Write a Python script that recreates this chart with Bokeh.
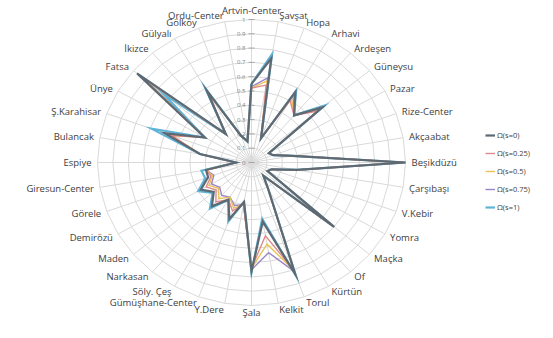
import numpy as np
from bokeh.plotting import figure
from bokeh.models import Range1d, Legend, LegendItem
from bokeh.core.properties import value
from bokeh.embed import file_html
from bokeh.resources import INLINE

categories = ["Artvin-Center", "Şavşat", "Hopa", "Arhavi", "Ardeşen", "Güneysu", "Pazar",
              "Rize-Center", "Akçaabat", "Beşikdüzü", "Çarşıbaşı", "V.Kebir", "Yomra", "Maçka",
              "Of", "Kürtün", "Torul", "Kelkit", "Şala", "Y.Dere", "Gümüşhane-Center",
              "Söly. Çeş", "Narkasan", "Maden", "Demirözü", "Görele", "Giresun-Center",
              "Espiye", "Bulancak", "Ş.Karahisar", "Ünye", "Fatsa", "İkizce", "Gülyalı",
              "Gölköy", "Ordu-Center"]

s_000 = [0.55, 0.74, 0.18, 0.57, 0.43, 0.60, 0.13, 0.15, 0.27, 1.00, 0.30, 0.14, 0.12, 0.70,
         0.12, 0.22, 0.83, 0.42, 0.76, 0.28, 0.42, 0.30, 0.40, 0.32, 0.38, 0.30, 0.30, 0.10,
         0.34, 0.60, 0.35, 0.97, 0.26, 0.58, 0.20, 0.15]
s_025 = [0.52, 0.55, 0.18, 0.50, 0.43, 0.56, 0.13, 0.15, 0.27, 0.98, 0.30, 0.14, 0.12, 0.70,
         0.12, 0.22, 0.80, 0.52, 0.74, 0.30, 0.36, 0.30, 0.36, 0.30, 0.34, 0.28, 0.30, 0.10,
         0.34, 0.55, 0.35, 0.93, 0.26, 0.55, 0.20, 0.15]
s_050 = [0.52, 0.58, 0.18, 0.52, 0.43, 0.57, 0.13, 0.15, 0.27, 0.98, 0.30, 0.14, 0.12, 0.70,
         0.12, 0.22, 0.80, 0.58, 0.74, 0.30, 0.34, 0.28, 0.33, 0.28, 0.32, 0.27, 0.30, 0.10,
         0.34, 0.55, 0.35, 0.91, 0.26, 0.55, 0.20, 0.15]
s_075 = [0.53, 0.60, 0.18, 0.54, 0.43, 0.58, 0.13, 0.15, 0.27, 0.99, 0.30, 0.14, 0.12, 0.70,
         0.12, 0.22, 0.81, 0.64, 0.75, 0.30, 0.32, 0.28, 0.30, 0.27, 0.30, 0.26, 0.30, 0.10,
         0.34, 0.58, 0.35, 0.89, 0.26, 0.56, 0.20, 0.15]
s_100 = [0.55, 0.77, 0.18, 0.58, 0.43, 0.62, 0.13, 0.15, 0.27, 1.00, 0.30, 0.14, 0.12, 0.70,
         0.12, 0.22, 0.84, 0.40, 0.77, 0.28, 0.44, 0.30, 0.42, 0.33, 0.40, 0.32, 0.33, 0.10,
         0.34, 0.69, 0.35, 0.75, 0.26, 0.60, 0.20, 0.15]

series = [s_000, s_025, s_050, s_075, s_100]
series_labels = ["Ω(s=0)", "Ω(s=0.25)", "Ω(s=0.5)", "Ω(s=0.75)", "Ω(s=1)"]
series_colors = ["#5d6a73", "#e0898c", "#e9c35a", "#9a86c6", "#5fb5d8"]
series_widths = [2.2, 1.4, 1.4, 1.4, 2.2]

ticks = [0, 0.1, 0.2, 0.3, 0.4, 0.5, 0.6, 0.7, 0.8, 0.9, 1.0]
tick_labels = ["0", "0.1", "0.2", "0.3", "0.4", "0.5", "0.6", "0.7", "0.8", "0.9", "1"]

W, H = 537, 322
RX, RY = 154.0, 143.0
CX, CY = 251.0, 162.0

p = figure(width=W, height=H, output_backend="svg", toolbar_location=None,
           x_range=Range1d(-CX / RX, (W - CX) / RX), y_range=Range1d(-(H - CY) / RY, CY / RY),
           min_border=0)
p.axis.visible = False
p.grid.visible = False
p.outline_line_color = None
p.background_fill_color = "white"

n = len(categories)
ang = np.arange(n) * 2 * np.pi / n
sx, sy = np.sin(ang), np.cos(ang)

# grid polygons
gx, gy = [], []
for t in ticks[1:]:
    gx.append(list(np.append(t * sx, t * sx[0])))
    gy.append(list(np.append(t * sy, t * sy[0])))
p.multi_line(gx, gy, line_color="#d9d9d9", line_width=1)
p.segment(x0=np.zeros(n), y0=np.zeros(n), x1=sx, y1=sy, line_color="#d9d9d9", line_width=1)

# radial axis ticks and labels
p.segment(x0=[-3 / RX] * len(ticks), y0=ticks, x1=[3 / RX] * len(ticks), y1=ticks,
          line_color="#a6a6a6", line_width=1)
p.text(x=[-6 / RX] * len(ticks), y=ticks, text=tick_labels, text_align="right",
       text_baseline="middle", text_font=value("Open Sans"), text_font_size="6px",
       text_color="#7f7f7f")

# series
renderers = {}
order = [4, 3, 2, 1, 0]
for i in order:
    v = np.array(series[i])
    xs = np.append(v * sx, v[0] * sx[0])
    ys = np.append(v * sy, v[0] * sy[0])
    r = p.line(xs, ys, line_color=series_colors[i], line_width=series_widths[i],
               line_join="miter")
    renderers[i] = r

# category labels
lx = 160.0 / RX * sx
ly = 149.0 / RY * sy
ly[0] = 152.0 / RY
ly[n // 2] = -150.0 / RY
groups = {"left": [], "right": [], "center": []}
for k in range(n):
    if sx[k] > 0.05:
        groups["left"].append(k)
    elif sx[k] < -0.05:
        groups["right"].append(k)
    else:
        groups["center"].append(k)
for al, idx in groups.items():
    p.text(x=[lx[k] for k in idx], y=[ly[k] for k in idx], text=[categories[k] for k in idx],
           text_align=al, text_baseline="middle", text_font=value("Open Sans"),
           text_font_size="9.5px", text_color="#404040")

legend = Legend(items=[LegendItem(label=series_labels[i], renderers=[renderers[i]]) for i in range(5)],
                location=(485, 108), glyph_width=10, glyph_height=14, label_height=14,
                spacing=4, padding=0, margin=0, label_standoff=2,
                background_fill_alpha=0, border_line_alpha=0,
                label_text_font_size="7.5px", label_text_font="Open Sans",
                label_text_color="#404040")
p.add_layout(legend)

open("out.html", "w").write(file_html(p, INLINE))
